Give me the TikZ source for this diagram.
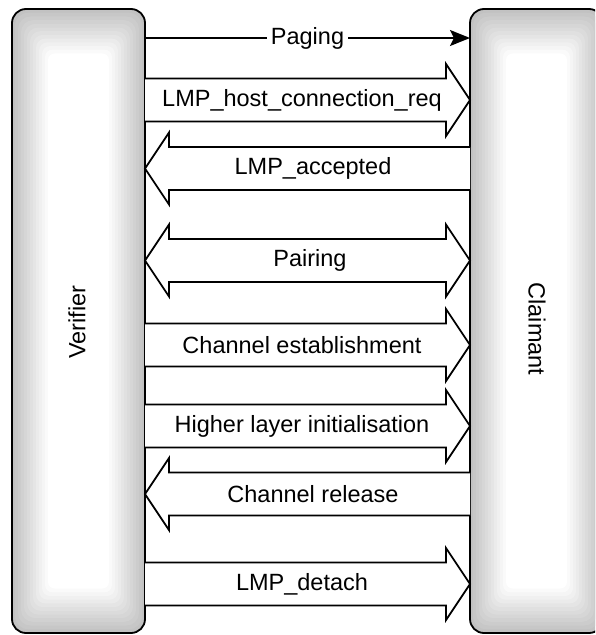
\documentclass[tikz,border=0pt]{standalone}
\usepackage{fontspec}
\setmainfont{Liberation Sans}
\usetikzlibrary{arrows.meta}
\newcommand\shadedcol[4]{% x1 y1 x2 y2
  \foreach \i in {0,...,12} {
    \pgfmathsetmacro\g{76+24*\i/12}
    \pgfmathsetmacro\r{max(14-0.6*\i,4)}
    \fill[white!\g!black, rounded corners=\r pt]
      ({#1+3*\i},{#2+3.7*\i}) rectangle ({#3-3*\i},{#4-3.7*\i});
  }
}
\newcommand\rarrow[3]{% y, text, name
  \draw[msg] (145,#1-21.5) -- (446,#1-21.5) -- (446,#1-36) -- (470,#1)
    -- (446,#1+36) -- (446,#1+21.5) -- (145,#1+21.5);
  \node[lbl] (#3) at (302,#1) {#2};
}
\newcommand\larrow[3]{%
  \draw[msg] (470,#1-21.5) -- (169,#1-21.5) -- (169,#1-36) -- (145,#1)
    -- (169,#1+36) -- (169,#1+21.5) -- (470,#1+21.5);
  \node[lbl] (#3) at (313,#1) {#2};
}
\newcommand\barrow[3]{%
  \draw[msg] (169,#1-21.5) -- (446,#1-21.5) -- (446,#1-36) -- (470,#1)
    -- (446,#1+36) -- (446,#1+21.5) -- (169,#1+21.5) -- (169,#1+36)
    -- (145,#1) -- (169,#1-36) -- cycle;
  \node[lbl] (#3) at (310,#1) {#2};
}
\begin{document}
\begin{tikzpicture}[x=1pt,y=-1pt,line width=1.8pt,
  font=\fontsize{23.5}{28}\selectfont,
  lbl/.style={inner sep=0pt,anchor=center},
  msg/.style={draw=black,fill=white,line join=miter},
  col/.style={draw=black,rounded corners=14pt,minimum width=133pt,
    minimum height=624pt,inner sep=0pt,outer sep=0pt}]
\useasboundingbox (0,0) rectangle (595,635);
\clip (0,0) rectangle (595,635);
\shadedcol{12}{9}{145}{633}
\shadedcol{470}{9}{603}{633}
\node[col] (verifier) at (78.5,321) {};
\node[col] (claimant) at (536.5,321) {};
\node[lbl,rotate=90] (vtext) at (77,322) {Verifier};
\node[lbl,rotate=-90] (ctext) at (537,329) {Claimant};
\coordinate (p1) at (0,38);
\draw[-{Stealth[length=20pt,width=16pt,inset=4pt]}] (verifier.east |- p1)
  -- node[fill=white,inner sep=4pt] (paging) {Paging} (claimant.west |- p1);
\rarrow{100}{LMP\_host\_connection\_req}{m1}
\larrow{168.5}{LMP\_accepted}{m2}
\barrow{260.5}{Pairing}{m3}
\rarrow{345}{Channel establishment}{m4}
\rarrow{426}{Higher layer initialisation}{m5}
\larrow{494}{Channel release}{m6}
\rarrow{584}{LMP\_detach}{m7}
\end{tikzpicture}
\end{document}
